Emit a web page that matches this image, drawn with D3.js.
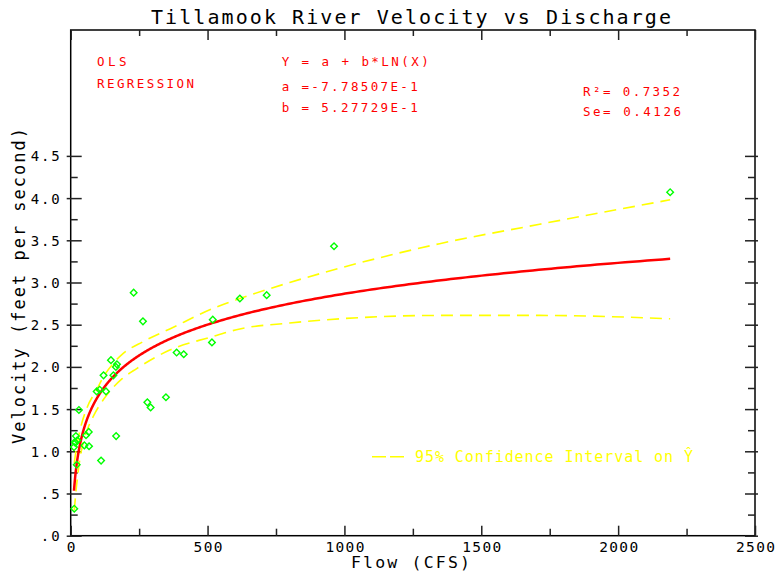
<!DOCTYPE html>
<html>
<head>
<meta charset="utf-8">
<script src="https://cdn.jsdelivr.net/npm/d3@7"></script>
<style>
  html, body { margin: 0; padding: 0; background: #fff; }
  svg { display: block; }
  text { font-family: "DejaVu Sans Mono", "Liberation Mono", monospace; }
</style>
</head>
<body>
<svg id="chart" width="778" height="575"></svg>
<script>
// ---------- data ----------
const flow = [13, 30, 19, 15, 12, 24, 17, 22, 56, 66, 50, 67, 111, 166, 95, 106, 129, 120, 156, 147, 165, 169,
              280, 292, 348, 387, 413, 230, 264, 519, 516, 618, 716, 962, 2190];
const velocity = [0.32, 1.49, 1.18, 1.11, 1.05, 1.13, 1.10, 0.84, 1.19, 1.23, 1.07, 1.06, 0.89, 1.18, 1.71, 1.73, 1.71, 1.90, 1.90, 2.08, 2.00, 2.03,
              1.58, 1.52, 1.64, 2.17, 2.15, 2.88, 2.54, 2.56, 2.29, 2.81, 2.85, 3.43, 4.07];

// regression coefficients (as printed on the chart)
const coefA = -7.78507E-1;
const coefB = 5.27729E-1;

// 95% confidence band
const ciFlow  = [13, 20, 34, 60, 95, 119, 155, 192, 265, 362, 533, 618, 800, 983, 1348, 1713, 2190];
const ciUpper = [0.86, 1.02, 1.25, 1.52, 1.73, 1.88, 2.04, 2.16, 2.30, 2.45, 2.71, 2.81, 3.00, 3.17, 3.46, 3.69, 3.98];
const ciLowFlow = [13, 20, 34, 50, 82, 119, 188, 241, 362, 508, 618, 800, 983, 1093, 1348, 1713, 2190];
const ciLower   = [0.30, 0.55, 0.92, 1.15, 1.41, 1.61, 1.86, 1.98, 2.20, 2.35, 2.45, 2.52, 2.57, 2.59, 2.61, 2.61, 2.57];

const xTicks = [0, 500, 1000, 1500, 2000, 2500];
const xTickLabels = ["0", "500", "1000", "1500", "2000", "2500"];
const yTicks = [0, 0.5, 1, 1.5, 2, 2.5, 3, 3.5, 4, 4.5];
const yTickLabels = [".0", ".5", "1.0", "1.5", "2.0", "2.5", "3.0", "3.5", "4.0", "4.5"];

const titleText = "Tillamook River Velocity vs Discharge";
const xTitle = "Flow (CFS)";
const yTitle = "Velocity (feet per second)";

// ---------- layout ----------
const svg = d3.select("#chart");
const L = 70.7, R = 755, T = 29.3, B = 535.7;
const x = d3.scaleLinear().domain([0, 2500]).range([L, R]);
const y = d3.scaleLinear().domain([0, 6]).range([B, T]);

// title
svg.append("text").attr("x", 151).attr("y", 24)
  .attr("font-size", 20).attr("fill", "#000")
  .attr("textLength", 520).attr("lengthAdjust", "spacing")
  .text(titleText);

// frame
svg.append("rect").attr("x", L).attr("y", 30).attr("width", R - L).attr("height", B - 30)
  .attr("fill", "none").attr("stroke", "#000").attr("stroke-width", 1.5);

const minorX = d3.range(250, 2500, 500);
const minorY = d3.range(0.25, 4.5, 0.5);

// bottom axis
const gB = svg.append("g").attr("transform", `translate(0,${B})`);
gB.call(d3.axisBottom(x).tickValues(xTicks).tickSizeInner(-10).tickSizeOuter(0)
  .tickFormat((d, i) => xTickLabels[i]));
svg.append("g").attr("transform", `translate(0,${B})`)
  .call(d3.axisBottom(x).tickValues(minorX).tickSizeInner(-7).tickSizeOuter(0).tickFormat(""));
// top axis
svg.append("g").attr("transform", `translate(0,30)`)
  .call(d3.axisTop(x).tickValues(xTicks).tickSizeInner(-10).tickSizeOuter(0).tickFormat(""));
svg.append("g").attr("transform", `translate(0,30)`)
  .call(d3.axisTop(x).tickValues(minorX).tickSizeInner(-6).tickSizeOuter(0).tickFormat(""));
// left axis
const gL = svg.append("g").attr("transform", `translate(${L},0)`);
gL.call(d3.axisLeft(y).tickValues(yTicks).tickSizeInner(-11).tickSizeOuter(0)
  .tickFormat((d, i) => yTickLabels[i]));
gL.selectAll(".tick line").attr("x1", -4);
svg.append("g").attr("transform", `translate(${L},0)`)
  .call(d3.axisLeft(y).tickValues(minorY).tickSizeInner(-7).tickSizeOuter(0).tickFormat(""));
// right axis
const gR = svg.append("g").attr("transform", `translate(${R},0)`);
gR.call(d3.axisRight(y).tickValues(yTicks).tickSizeInner(-10).tickSizeOuter(0).tickFormat(""));
gR.selectAll(".tick line").attr("x1", 3);
svg.append("g").attr("transform", `translate(${R},0)`)
  .call(d3.axisRight(y).tickValues(minorY).tickSizeInner(-7).tickSizeOuter(0).tickFormat(""));

svg.selectAll(".domain").remove();
svg.selectAll(".tick line").attr("stroke", "#222").attr("stroke-width", 1.5);

gB.selectAll(".tick text")
  .attr("y", 6).attr("dy", "0.71em")
  .attr("font-size", 14.5).attr("fill", "#000")
  .attr("font-family", "DejaVu Sans Mono")
  .each(function(d, i) {
    const n = xTickLabels[i].length;
    d3.select(this).attr("textLength", n * 10 - 1).attr("lengthAdjust", "spacing");
  });
gL.selectAll(".tick text")
  .attr("x", -11).attr("dy", "0.36em")
  .attr("font-size", 14).attr("fill", "#000")
  .attr("font-family", "DejaVu Sans Mono")
  .each(function(d, i) {
    const n = yTickLabels[i].length;
    d3.select(this).attr("textLength", n * 10 - 1).attr("lengthAdjust", "spacing");
  });

// axis titles
svg.append("text").attr("x", 351).attr("y", 568)
  .attr("font-size", 16.5).attr("fill", "#000")
  .attr("textLength", 119).attr("lengthAdjust", "spacing")
  .text(xTitle);
svg.append("text").attr("transform", "translate(25,444) rotate(-90)")
  .attr("font-size", 17).attr("fill", "#000")
  .attr("textLength", 316).attr("lengthAdjust", "spacing")
  .text(yTitle);

// annotations
const red = "#ff0000";
const notes = [
  {t: "OLS", x: 97, y: 65.7, len: 29.5},
  {t: "REGRESSION", x: 97, y: 88.3, len: 97},
  {t: "Y = a + b*LN(X)", x: 281.7, y: 65.7, len: 147},
  {t: "a =-7.78507E-1", x: 281.7, y: 90.7, len: 136},
  {t: "b = 5.27729E-1", x: 281.7, y: 111.7, len: 136},
  {t: "R\u00b2= 0.7352", x: 583, y: 95.7, len: 97},
  {t: "Se= 0.4126", x: 583, y: 115.7, len: 98}
];
svg.append("g").selectAll("text").data(notes).join("text")
  .attr("x", d => d.x).attr("y", d => d.y)
  .attr("font-size", 12.5).attr("fill", red)
  .attr("textLength", d => d.len).attr("lengthAdjust", "spacing")
  .text(d => d.t);

// confidence band
const yellow = "#ffff00";
const lineGen = d3.line().x(d => x(d[0])).y(d => y(d[1])).curve(d3.curveMonotoneX);
svg.append("path").datum(ciFlow.map((f, i) => [f, ciUpper[i]]))
  .attr("d", lineGen).attr("fill", "none").attr("stroke", yellow)
  .attr("stroke-width", 1.6).attr("stroke-dasharray", "12,7");
svg.append("path").datum(ciLowFlow.map((f, i) => [f, ciLower[i]]))
  .attr("d", lineGen).attr("fill", "none").attr("stroke", yellow)
  .attr("stroke-width", 1.6).attr("stroke-dasharray", "12,7");

// fitted curve
const fMin = d3.min(flow), fMax = d3.max(flow);
const fitPts = d3.range(0, 401).map(i => {
  const f = Math.exp(Math.log(fMin) + (Math.log(fMax) - Math.log(fMin)) * i / 400);
  return [f, coefA + coefB * Math.log(f)];
});
svg.append("path").datum(fitPts)
  .attr("d", d3.line().x(d => x(d[0])).y(d => y(d[1])))
  .attr("fill", "none").attr("stroke", red).attr("stroke-width", 2.5);

// points
svg.append("g").selectAll("path").data(flow.map((f, i) => [f, velocity[i]])).join("path")
  .attr("transform", d => `translate(${x(d[0])},${y(d[1])}) rotate(45)`)
  .attr("d", d3.symbol().type(d3.symbolSquare).size(22))
  .attr("fill", "none").attr("stroke", "#00ff00").attr("stroke-width", 1.4);

// legend
svg.append("line").attr("x1", 372).attr("x2", 404).attr("y1", 456.7).attr("y2", 456.7)
  .attr("stroke", yellow).attr("stroke-width", 1.6).attr("stroke-dasharray", "14,4");
svg.append("text").attr("x", 415).attr("y", 461.7)
  .attr("font-size", 15).attr("fill", yellow)
  .attr("textLength", 278).attr("lengthAdjust", "spacing")
  .text("95% Confidence Interval on \u0176");
</script>
</body>
</html>
